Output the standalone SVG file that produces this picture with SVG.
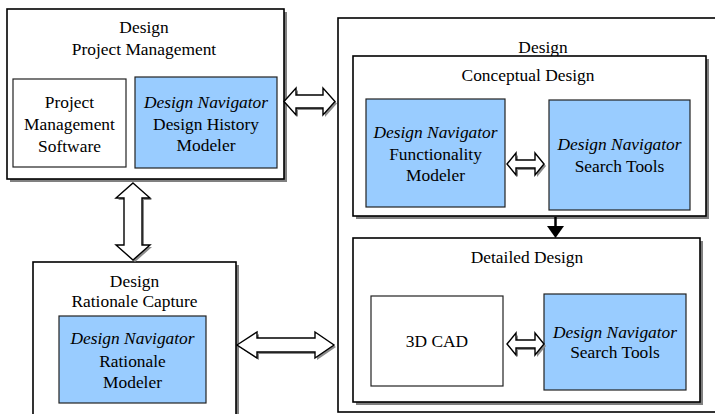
<svg xmlns="http://www.w3.org/2000/svg" width="715" height="414" viewBox="0 0 715 414">
  <style>
    text { font-family: "Liberation Serif", "Times New Roman", serif; font-size: 17.4px; fill: #000; text-anchor: middle; }
    .it { font-style: italic; }
    .frame { fill: #fff; stroke: #000; stroke-width: 1.6; }
    .shadow { fill: #808080; stroke: none; }
    .blue { fill: #99ccff; stroke: #222; stroke-width: 1.2; }
    .plain { fill: #fff; stroke: #222; stroke-width: 1.2; }
    .arrow { fill: #fff; stroke: #000; stroke-width: 1.4; stroke-linejoin: miter; }
    .arrow-shadow { fill: #8a8a8a; stroke: none; }
  </style>

  <!-- Design (outer container) -->
  <g id="design">
    <rect class="frame" x="338" y="18" width="378" height="394"/>
    <text x="543" y="53">Design</text>
  </g>

  <!-- Conceptual design -->
  <g id="conceptual-design">
    <rect class="shadow" x="356" y="59" width="353" height="160"/>
    <rect class="frame" x="353" y="56" width="353" height="160"/>
    <text x="528" y="81">Conceptual Design</text>
    <g id="functionality-modeler">
      <rect class="blue" x="366" y="99" width="139" height="108"/>
      <text class="it" x="435.5" y="138">Design Navigator</text>
      <text x="435.5" y="160">Functionality</text>
      <text x="435.5" y="181">Modeler</text>
    </g>
    <g id="search-tools-conceptual">
      <rect class="blue" x="549" y="100" width="141" height="110"/>
      <text class="it" x="619.5" y="150">Design Navigator</text>
      <text x="619.5" y="172">Search Tools</text>
    </g>
  </g>

  <!-- Detailed design -->
  <g id="detailed-design">
    <rect class="shadow" x="356" y="241" width="347" height="164"/>
    <rect class="frame" x="353" y="238" width="347" height="164"/>
    <text x="527" y="263">Detailed Design</text>
    <g id="cad">
      <rect class="plain" x="371" y="296" width="132" height="90"/>
      <text x="437" y="347">3D CAD</text>
    </g>
    <g id="search-tools-detailed">
      <rect class="blue" x="544" y="294" width="142" height="96"/>
      <text class="it" x="615" y="338">Design Navigator</text>
      <text x="615" y="358">Search Tools</text>
    </g>
  </g>

  <!-- Design project management -->
  <g id="project-management">
    <rect class="shadow" x="10" y="12" width="277" height="170"/>
    <rect class="frame" x="7" y="9" width="277" height="170"/>
    <text x="144" y="33">Design</text>
    <text x="144" y="55">Project Management</text>
    <g id="pm-software">
      <rect class="plain" x="13" y="79" width="113" height="88"/>
      <text x="69.5" y="108">Project</text>
      <text x="69.5" y="130">Management</text>
      <text x="69.5" y="152">Software</text>
    </g>
    <g id="history-modeler">
      <rect class="blue" x="135" y="77" width="142" height="91"/>
      <text class="it" x="206" y="108">Design Navigator</text>
      <text x="206" y="130">Design History</text>
      <text x="206" y="151">Modeler</text>
    </g>
  </g>

  <!-- Design rationale capture -->
  <g id="rationale-capture">
    <rect class="shadow" x="36" y="265" width="203" height="160"/>
    <rect class="frame" x="33" y="262" width="203" height="160"/>
    <text x="134.5" y="287">Design</text>
    <text x="134.5" y="307">Rationale Capture</text>
    <g id="rationale-modeler">
      <rect class="blue" x="59" y="316" width="147" height="87"/>
      <text class="it" x="132.5" y="344">Design Navigator</text>
      <text x="132.5" y="367">Rationale</text>
      <text x="132.5" y="388">Modeler</text>
    </g>
  </g>

  <!-- Connectors: hollow double arrows with drop shadow, plus the flow arrow -->
  <g id="connectors">
    <!-- project management <-> design -->
    <g id="pm-design">
      <polygon class="arrow-shadow" transform="translate(2,2)" points="284,101.5 296,88 296,95 323,95 323,88 335,101.5 323,115 323,108 296,108 296,115"/>
      <polygon class="arrow" points="284,101.5 296,88 296,95 323,95 323,88 335,101.5 323,115 323,108 296,108 296,115"/>
    </g>
    <!-- project management <-> rationale capture -->
    <g id="pm-rationale">
      <polygon class="arrow-shadow" transform="translate(2,2)" points="133,183 150,198 142,198 142,245 150,245 133,260 116,245 124,245 124,198 116,198"/>
      <polygon class="arrow" points="133,183 150,198 142,198 142,245 150,245 133,260 116,245 124,245 124,198 116,198"/>
    </g>
    <!-- rationale capture <-> design -->
    <g id="rationale-design">
      <polygon class="arrow-shadow" transform="translate(2,2)" points="237,345 257,332 257,338 315,338 315,332 334,345 315,358 315,352 257,352 257,358"/>
      <polygon class="arrow" points="237,345 257,332 257,338 315,338 315,332 334,345 315,358 315,352 257,352 257,358"/>
    </g>
    <!-- functionality modeler <-> search tools -->
    <g id="functionality-search">
      <polygon class="arrow-shadow" transform="translate(2,2)" points="507,164 516,153 516,160 535,160 535,153 544,164 535,175 535,168 516,168 516,175"/>
      <polygon class="arrow" points="507,164 516,153 516,160 535,160 535,153 544,164 535,175 535,168 516,168 516,175"/>
    </g>
    <!-- 3D CAD <-> search tools -->
    <g id="cad-search">
      <polygon class="arrow-shadow" transform="translate(2,2)" points="507,344 516,333 516,340 535,340 535,333 544,344 535,355 535,348 516,348 516,355"/>
      <polygon class="arrow" points="507,344 516,333 516,340 535,340 535,333 544,344 535,355 535,348 516,348 516,355"/>
    </g>
    <!-- conceptual -> detailed -->
    <g id="conceptual-detailed">
      <line x1="555.5" y1="217" x2="555.5" y2="228" stroke="#000" stroke-width="2.5"/>
      <polygon points="547,226 564,226 555.5,238" fill="#000"/>
    </g>
  </g>
</svg>
